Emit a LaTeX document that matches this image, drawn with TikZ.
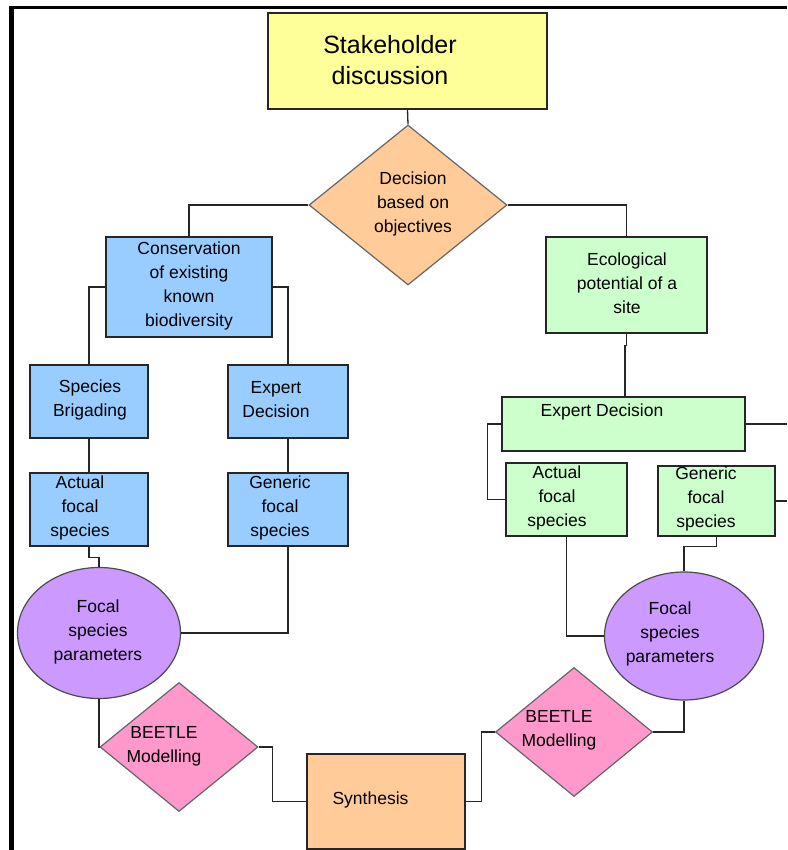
\documentclass[tikz,border=0pt]{standalone}
\usepackage{fontspec}
\setmainfont{Liberation Sans}
\usetikzlibrary{shapes.geometric}
\usepackage{xcolor}

\definecolor{stakeyellow}{HTML}{FFFF99}
\definecolor{peach}{HTML}{FFCC99}
\definecolor{consblue}{HTML}{99CCFF}
\definecolor{ecogreen}{HTML}{CCFFCC}
\definecolor{focalpurple}{HTML}{CC99FF}
\definecolor{beetlepink}{HTML}{FF99CC}

\tikzset{
  box/.style={draw=black!85, line width=1.4pt, inner sep=0pt},
  dia/.style={diamond, draw=black!60, line width=1.2pt, inner sep=0pt, fill=#1},
  oval/.style={ellipse, draw=black!70, line width=1.2pt, inner sep=0pt, fill=focalpurple},
  conn/.style={line width=1.3pt, black!85},
  txt/.style={align=center, inner sep=0pt, font=\fontsize{17.5}{24}\selectfont}
}

\begin{document}
\begin{tikzpicture}[x=1pt,y=-1pt]
\newcommand{\boxtext}[4]{
  \node[txt] (#1) at (#2,#3) {#4};
}

\fill[white] (0,0) rectangle (787,850);
\useasboundingbox (0,0) rectangle (787,850);

% frame
\draw[line width=3pt] (10,7.5) -- (787,7.5);
\draw[line width=5pt] (11.5,6) -- (11.5,850);

% top
\node[box, fill=stakeyellow, minimum width=279pt, minimum height=96pt] (stake) at (407.5,61) {};
\node[dia=peach, minimum width=198pt, minimum height=160pt] (decide) at (408,205) {};

% conservation branch
\node[box, fill=consblue, minimum width=166pt, minimum height=100pt] (cons) at (189,287) {};
\node[box, fill=consblue, minimum width=118pt, minimum height=73pt] (brig) at (89,401.5) {};
\node[box, fill=consblue, minimum width=120pt, minimum height=73pt] (expL) at (288,401.5) {};
\node[box, fill=consblue, minimum width=118pt, minimum height=73pt] (actL) at (89,509.5) {};
\node[box, fill=consblue, minimum width=120pt, minimum height=73pt] (genL) at (288,509.5) {};
\node[oval, minimum width=163pt, minimum height=131pt] (focL) at (99,633) {};
\node[dia=beetlepink, minimum width=158pt, minimum height=129pt] (beetL) at (179,747) {};

% ecological branch
\node[box, fill=ecogreen, minimum width=161pt, minimum height=96pt] (eco) at (626.5,285) {};
\node[box, fill=ecogreen, minimum width=243pt, minimum height=54pt] (expR) at (623.5,424) {};
\node[box, fill=ecogreen, minimum width=121pt, minimum height=73pt] (actR) at (566.5,499.5) {};
\node[box, fill=ecogreen, minimum width=117pt, minimum height=70pt] (genR) at (716.5,501) {};
\node[oval, minimum width=159pt, minimum height=128pt] (focR) at (684,636) {};
\node[dia=beetlepink, minimum width=157pt, minimum height=129pt] (beetR) at (574,732) {};

% bottom
\node[box, fill=peach, minimum width=158pt, minimum height=95pt] (synth) at (386,801.5) {};

\coordinate (offA) at (787,424);
\coordinate (offB) at (787,501);

% connectors
\draw[conn] (stake.south) -- (decide.north);
\draw[conn] (decide.west) -| (cons.north);
\draw[conn] (decide.east) -| (eco.north);
\draw[conn] (cons.west) -| (brig.north);
\draw[conn] (cons.east) -| (expL.north);
\draw[conn] (brig.south) -- (actL.north);
\draw[conn] (expL.south) -- (genL.north);
\draw[conn] (actL.south) -- ++(0,11) -| (focL.north);
\draw[conn] (genL.south) |- (focL.east);
\draw[conn] (focL.south) |- (beetL.west);
\draw[conn] (beetL.east) -- ++(14,0) |- (synth.west);
\draw[conn] (synth.east) -- ++(16,0) |- (beetR.west);
\draw[conn] (beetR.east) -| (focR.south);
\draw[conn] (eco.south) -- ++(0,12) -| ([xshift=1.5pt]expR.north);
\draw[conn] (expR.west) -- ++(-14,0) |- (actR.west);
\draw[conn] (expR.east) -- (offA);
\draw[conn] (genR.east) -- (offB);
\draw[conn] (actR.south) |- (focR.west);
\draw[conn] (genR.south) -- ++(0,10) -| (focR.north);

% labels
\node[txt, font=\fontsize{25}{31}\selectfont] (tStake) at (390,60.5) {Stakeholder\\discussion};
\boxtext{tDecide}{413}{204}{Decision\\based on\\objectives}
\boxtext{tCons}{189}{286}{Conservation\\of existing\\known\\biodiversity}
\boxtext{tBrig}{90}{399.5}{Species\\Brigading}
\boxtext{tExpL}{276}{399.5}{Expert\\Decision}
\boxtext{tActL}{80}{508}{Actual\\focal\\species}
\boxtext{tGenL}{280}{508}{Generic\\focal\\species}
\boxtext{tFocL}{98}{632}{Focal\\species\\parameters}
\boxtext{tBeetL}{164}{746}{BEETLE\\Modelling}
\boxtext{tEco}{627}{283}{Ecological\\potential of a\\site}
\boxtext{tExpR}{602}{412}{Expert Decision}
\boxtext{tActR}{557}{497.5}{Actual\\focal\\species}
\boxtext{tGenR}{706}{499}{Generic\\focal\\species}
\boxtext{tFocR}{670}{634}{Focal\\species\\parameters}
\boxtext{tBeetR}{559}{730.5}{BEETLE\\Modelling}
\boxtext{tSynth}{370.5}{800}{Synthesis}

\end{tikzpicture}
\end{document}
